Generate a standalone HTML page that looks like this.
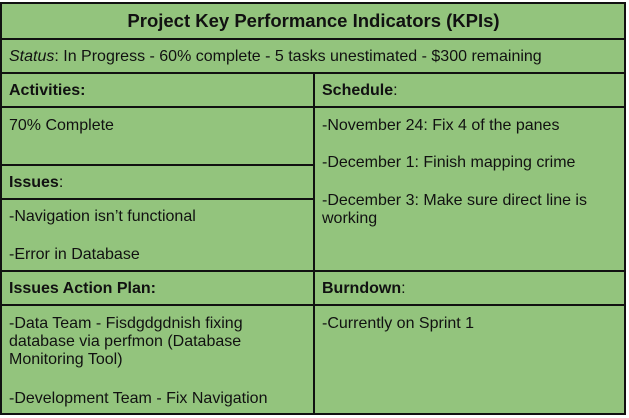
<!DOCTYPE html>
<html><head><meta charset="utf-8"><style>
body{margin:0;width:629px;height:418px;background:#fff;position:relative;overflow:hidden;font-family:"Liberation Sans",Arial,sans-serif;color:#111;}
#tbl{position:absolute;left:1px;top:2px;width:625px;height:413px;background:#93c47d;}
.h{position:absolute;height:2px;background:#111;}
.v{position:absolute;width:2px;background:#111;}
.t{position:absolute;font-size:16px;line-height:18px;white-space:nowrap;}
b{font-weight:bold;}
</style></head><body>
<div id="tbl"></div>
<div class="h" style="left:1px;top:2px;width:625px"></div>
<div class="h" style="left:1px;top:38px;width:625px"></div>
<div class="h" style="left:1px;top:72px;width:625px"></div>
<div class="h" style="left:1px;top:106px;width:625px"></div>
<div class="h" style="left:1px;top:164px;width:313px"></div>
<div class="h" style="left:1px;top:198px;width:313px"></div>
<div class="h" style="left:1px;top:270px;width:625px"></div>
<div class="h" style="left:1px;top:304px;width:625px"></div>
<div class="h" style="left:1px;top:413px;width:625px"></div>
<div class="v" style="left:0px;top:2px;height:413px"></div>
<div class="v" style="left:624px;top:2px;height:413px"></div>
<div class="v" style="left:313px;top:72px;height:343px"></div>

<div class="t" style="left:0;width:627px;text-align:center;top:11px;font-size:18.5px;font-weight:bold;line-height:20px">Project Key Performance Indicators (KPIs)</div>
<div class="t" style="left:9px;top:48px"><i>Status</i>: In Progress - 60% complete - 5 tasks unestimated - $300 remaining</div>
<div class="t" style="left:9px;top:82px"><b>Activities:</b></div>
<div class="t" style="left:9px;top:117px">70% Complete</div>
<div class="t" style="left:9px;top:174px"><b>Issues</b>:</div>
<div class="t" style="left:9px;top:208px">-Navigation isn’t functional</div>
<div class="t" style="left:9px;top:246px">-Error in Database</div>
<div class="t" style="left:9px;top:280px"><b>Issues Action Plan:</b></div>
<div class="t" style="left:9px;top:315px">-Data Team - Fisdgdgdnish fixing<br>database via perfmon (Database<br>Monitoring Tool)</div>
<div class="t" style="left:9px;top:390px">-Development Team - Fix Navigation</div>
<div class="t" style="left:322px;top:82px"><b>Schedule</b>:</div>
<div class="t" style="left:322px;top:117px">-November 24: Fix 4 of the panes</div>
<div class="t" style="left:322px;top:154px">-December 1: Finish mapping crime</div>
<div class="t" style="left:322px;top:192px">-December 3: Make sure direct line is<br>working</div>
<div class="t" style="left:322px;top:280px"><b>Burndown</b>:</div>
<div class="t" style="left:322px;top:315px">-Currently on Sprint 1</div>
</body></html>
